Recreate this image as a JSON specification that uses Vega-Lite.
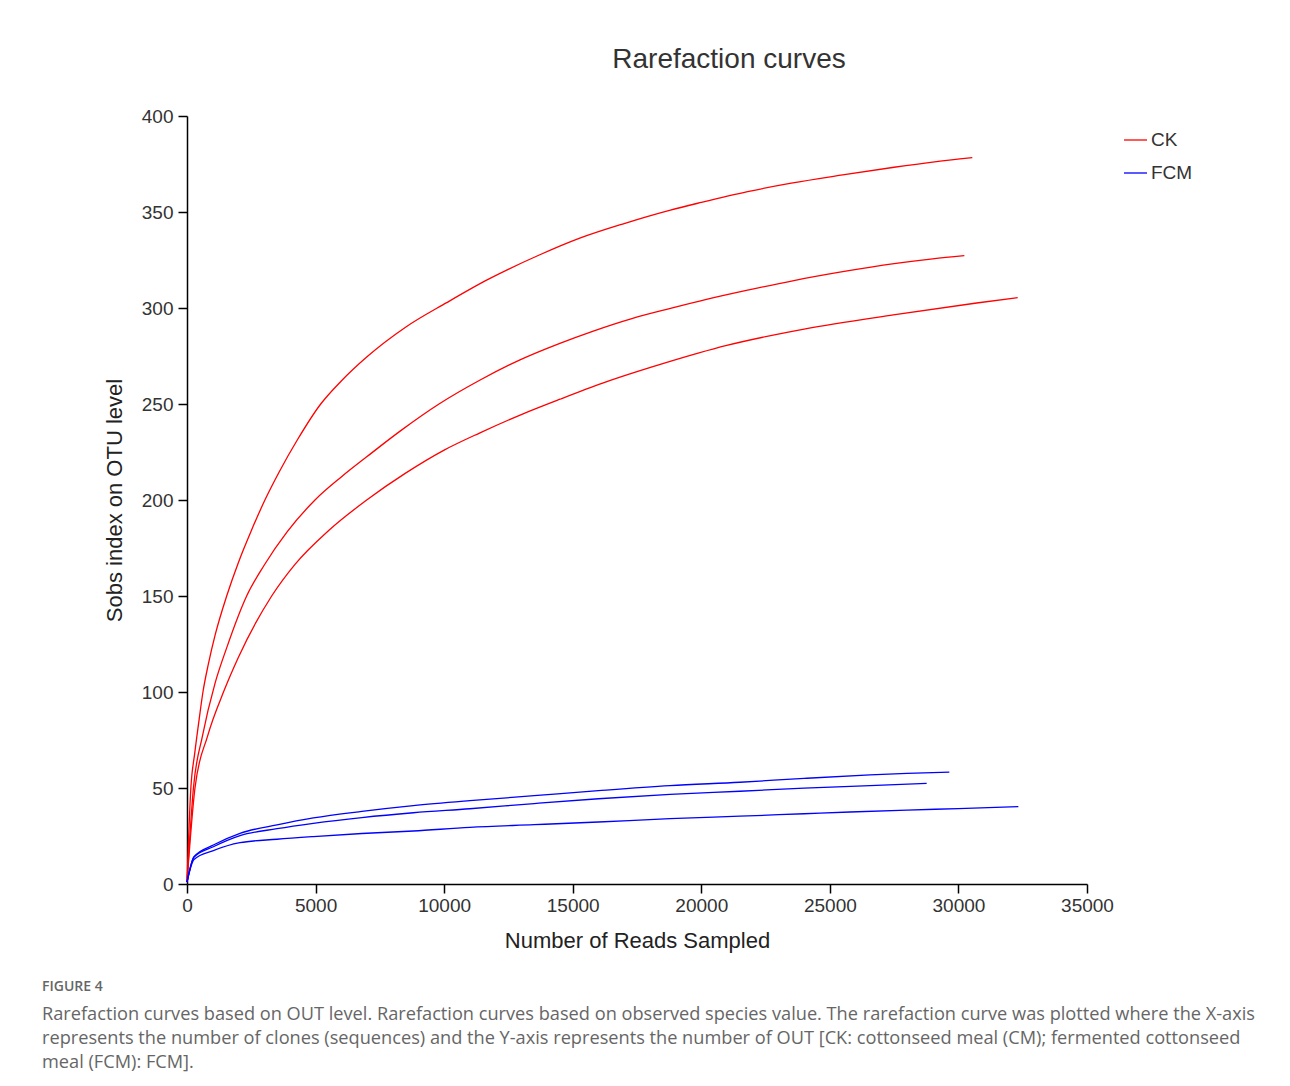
{
  "$schema": "https://vega.github.io/schema/vega-lite/v6.json",
  "padding": {"left": 42, "top": 46, "right": 0, "bottom": 0},
  "background": "white",
  "spacing": 28,
  "config": {
    "view": {"stroke": null},
    "font": "Liberation Sans",
    "axis": {
      "domainColor": "#000000",
      "domainWidth": 1.5,
      "tickColor": "#000000",
      "tickWidth": 1.5,
      "tickSize": 9,
      "labelFontSize": 19,
      "labelColor": "#333333",
      "labelFont": "Liberation Sans",
      "titleFont": "Liberation Sans",
      "titleFontSize": 22,
      "titleFontWeight": "normal",
      "titleColor": "#222222",
      "grid": false
    },
    "legend": {
      "labelFont": "Liberation Sans",
      "labelFontSize": 19,
      "labelColor": "#333333",
      "padding": 0
    }
  },
  "vconcat": [
    {
      "width": 900,
      "height": 768,
      "title": {
        "text": "Rarefaction curves",
        "anchor": "middle",
        "frame": "group",
        "dx": 92,
        "fontSize": 28,
        "fontWeight": "normal",
        "font": "Liberation Sans",
        "color": "#333333",
        "offset": 33
      },
      "data": {
        "values": [
          {"g": "CK", "s": "CK1", "x": 0, "y": 1},
          {"g": "CK", "s": "CK1", "x": 150, "y": 50},
          {"g": "CK", "s": "CK1", "x": 300, "y": 68},
          {"g": "CK", "s": "CK1", "x": 450, "y": 83.5},
          {"g": "CK", "s": "CK1", "x": 620, "y": 100},
          {"g": "CK", "s": "CK1", "x": 830, "y": 114.5},
          {"g": "CK", "s": "CK1", "x": 1100, "y": 130},
          {"g": "CK", "s": "CK1", "x": 1543, "y": 150},
          {"g": "CK", "s": "CK1", "x": 2000, "y": 167.5},
          {"g": "CK", "s": "CK1", "x": 2500, "y": 184},
          {"g": "CK", "s": "CK1", "x": 3030, "y": 200},
          {"g": "CK", "s": "CK1", "x": 3600, "y": 215},
          {"g": "CK", "s": "CK1", "x": 4300, "y": 231.5},
          {"g": "CK", "s": "CK1", "x": 5200, "y": 250},
          {"g": "CK", "s": "CK1", "x": 6000, "y": 262},
          {"g": "CK", "s": "CK1", "x": 7000, "y": 274.6},
          {"g": "CK", "s": "CK1", "x": 8500, "y": 290},
          {"g": "CK", "s": "CK1", "x": 10100, "y": 302.8},
          {"g": "CK", "s": "CK1", "x": 11650, "y": 314.5},
          {"g": "CK", "s": "CK1", "x": 13700, "y": 327.6},
          {"g": "CK", "s": "CK1", "x": 15300, "y": 336.5},
          {"g": "CK", "s": "CK1", "x": 17000, "y": 344},
          {"g": "CK", "s": "CK1", "x": 18800, "y": 351},
          {"g": "CK", "s": "CK1", "x": 20000, "y": 355},
          {"g": "CK", "s": "CK1", "x": 21800, "y": 360.6},
          {"g": "CK", "s": "CK1", "x": 23500, "y": 365},
          {"g": "CK", "s": "CK1", "x": 25500, "y": 369.3},
          {"g": "CK", "s": "CK1", "x": 27500, "y": 373.3},
          {"g": "CK", "s": "CK1", "x": 29000, "y": 376},
          {"g": "CK", "s": "CK1", "x": 30540, "y": 378.3},

          {"g": "CK", "s": "CK2", "x": 0, "y": 1},
          {"g": "CK", "s": "CK2", "x": 250, "y": 50},
          {"g": "CK", "s": "CK2", "x": 600, "y": 77},
          {"g": "CK", "s": "CK2", "x": 1100, "y": 105},
          {"g": "CK", "s": "CK2", "x": 1543, "y": 123},
          {"g": "CK", "s": "CK2", "x": 2320, "y": 150},
          {"g": "CK", "s": "CK2", "x": 3000, "y": 166},
          {"g": "CK", "s": "CK2", "x": 3900, "y": 183.5},
          {"g": "CK", "s": "CK2", "x": 4978, "y": 200},
          {"g": "CK", "s": "CK2", "x": 6000, "y": 212},
          {"g": "CK", "s": "CK2", "x": 7000, "y": 222.6},
          {"g": "CK", "s": "CK2", "x": 8300, "y": 236},
          {"g": "CK", "s": "CK2", "x": 9800, "y": 250},
          {"g": "CK", "s": "CK2", "x": 11400, "y": 262.5},
          {"g": "CK", "s": "CK2", "x": 12950, "y": 273},
          {"g": "CK", "s": "CK2", "x": 14500, "y": 281.6},
          {"g": "CK", "s": "CK2", "x": 15800, "y": 288},
          {"g": "CK", "s": "CK2", "x": 17300, "y": 294.5},
          {"g": "CK", "s": "CK2", "x": 18800, "y": 299.8},
          {"g": "CK", "s": "CK2", "x": 20200, "y": 304.5},
          {"g": "CK", "s": "CK2", "x": 21800, "y": 309.3},
          {"g": "CK", "s": "CK2", "x": 23600, "y": 314.3},
          {"g": "CK", "s": "CK2", "x": 25500, "y": 318.9},
          {"g": "CK", "s": "CK2", "x": 27500, "y": 323.1},
          {"g": "CK", "s": "CK2", "x": 29000, "y": 325.6},
          {"g": "CK", "s": "CK2", "x": 30230, "y": 327.3},

          {"g": "CK", "s": "CK3", "x": 0, "y": 1},
          {"g": "CK", "s": "CK3", "x": 310, "y": 50},
          {"g": "CK", "s": "CK3", "x": 800, "y": 77},
          {"g": "CK", "s": "CK3", "x": 1450, "y": 101},
          {"g": "CK", "s": "CK3", "x": 1996, "y": 118},
          {"g": "CK", "s": "CK3", "x": 3293, "y": 150},
          {"g": "CK", "s": "CK3", "x": 4200, "y": 166.5},
          {"g": "CK", "s": "CK3", "x": 5500, "y": 184},
          {"g": "CK", "s": "CK3", "x": 6988, "y": 200},
          {"g": "CK", "s": "CK3", "x": 8500, "y": 214},
          {"g": "CK", "s": "CK3", "x": 10000, "y": 226},
          {"g": "CK", "s": "CK3", "x": 11394, "y": 235},
          {"g": "CK", "s": "CK3", "x": 13000, "y": 244.5},
          {"g": "CK", "s": "CK3", "x": 14506, "y": 252.5},
          {"g": "CK", "s": "CK3", "x": 16191, "y": 261},
          {"g": "CK", "s": "CK3", "x": 18500, "y": 271},
          {"g": "CK", "s": "CK3", "x": 20989, "y": 280.5},
          {"g": "CK", "s": "CK3", "x": 24000, "y": 289},
          {"g": "CK", "s": "CK3", "x": 27468, "y": 296.4},
          {"g": "CK", "s": "CK3", "x": 30710, "y": 302.6},
          {"g": "CK", "s": "CK3", "x": 32304, "y": 305.4},

          {"g": "FCM", "s": "FCM1", "x": 0, "y": 1},
          {"g": "FCM", "s": "FCM1", "x": 272, "y": 14.2},
          {"g": "FCM", "s": "FCM1", "x": 1024, "y": 20.3},
          {"g": "FCM", "s": "FCM1", "x": 2061, "y": 26.4},
          {"g": "FCM", "s": "FCM1", "x": 3500, "y": 30.8},
          {"g": "FCM", "s": "FCM1", "x": 4913, "y": 34.4},
          {"g": "FCM", "s": "FCM1", "x": 6800, "y": 37.8},
          {"g": "FCM", "s": "FCM1", "x": 8802, "y": 40.8},
          {"g": "FCM", "s": "FCM1", "x": 11000, "y": 43.4},
          {"g": "FCM", "s": "FCM1", "x": 13500, "y": 46},
          {"g": "FCM", "s": "FCM1", "x": 16000, "y": 48.6},
          {"g": "FCM", "s": "FCM1", "x": 18783, "y": 51.2},
          {"g": "FCM", "s": "FCM1", "x": 21500, "y": 53},
          {"g": "FCM", "s": "FCM1", "x": 24000, "y": 55},
          {"g": "FCM", "s": "FCM1", "x": 26561, "y": 56.8},
          {"g": "FCM", "s": "FCM1", "x": 28000, "y": 57.6},
          {"g": "FCM", "s": "FCM1", "x": 29646, "y": 58.3},

          {"g": "FCM", "s": "FCM2", "x": 0, "y": 1},
          {"g": "FCM", "s": "FCM2", "x": 272, "y": 14},
          {"g": "FCM", "s": "FCM2", "x": 1024, "y": 19.4},
          {"g": "FCM", "s": "FCM2", "x": 2061, "y": 25.2},
          {"g": "FCM", "s": "FCM2", "x": 3500, "y": 28.8},
          {"g": "FCM", "s": "FCM2", "x": 4913, "y": 31.6},
          {"g": "FCM", "s": "FCM2", "x": 6800, "y": 34.6},
          {"g": "FCM", "s": "FCM2", "x": 8802, "y": 37.1},
          {"g": "FCM", "s": "FCM2", "x": 11000, "y": 39.2},
          {"g": "FCM", "s": "FCM2", "x": 13500, "y": 41.9},
          {"g": "FCM", "s": "FCM2", "x": 16000, "y": 44.4},
          {"g": "FCM", "s": "FCM2", "x": 18783, "y": 46.7},
          {"g": "FCM", "s": "FCM2", "x": 21500, "y": 48.3},
          {"g": "FCM", "s": "FCM2", "x": 24000, "y": 49.9},
          {"g": "FCM", "s": "FCM2", "x": 26561, "y": 51.2},
          {"g": "FCM", "s": "FCM2", "x": 28764, "y": 52.4},

          {"g": "FCM", "s": "FCM3", "x": 0, "y": 1},
          {"g": "FCM", "s": "FCM3", "x": 272, "y": 12.8},
          {"g": "FCM", "s": "FCM3", "x": 1024, "y": 17.4},
          {"g": "FCM", "s": "FCM3", "x": 2061, "y": 21.5},
          {"g": "FCM", "s": "FCM3", "x": 3500, "y": 23.3},
          {"g": "FCM", "s": "FCM3", "x": 4913, "y": 24.7},
          {"g": "FCM", "s": "FCM3", "x": 6800, "y": 26.3},
          {"g": "FCM", "s": "FCM3", "x": 8802, "y": 27.6},
          {"g": "FCM", "s": "FCM3", "x": 11000, "y": 29.5},
          {"g": "FCM", "s": "FCM3", "x": 13500, "y": 30.9},
          {"g": "FCM", "s": "FCM3", "x": 16000, "y": 32.3},
          {"g": "FCM", "s": "FCM3", "x": 18783, "y": 34},
          {"g": "FCM", "s": "FCM3", "x": 21500, "y": 35.3},
          {"g": "FCM", "s": "FCM3", "x": 24000, "y": 36.6},
          {"g": "FCM", "s": "FCM3", "x": 25784, "y": 37.5},
          {"g": "FCM", "s": "FCM3", "x": 28000, "y": 38.5},
          {"g": "FCM", "s": "FCM3", "x": 30000, "y": 39.3},
          {"g": "FCM", "s": "FCM3", "x": 32330, "y": 40.3}
        ]
      },
      "mark": {"type": "line", "strokeWidth": 1.3, "interpolate": "monotone"},
      "encoding": {
        "x": {
          "field": "x",
          "type": "quantitative",
          "scale": {"domain": [0, 35000], "nice": false},
          "axis": {
            "title": "Number of Reads Sampled",
            "values": [0, 5000, 10000, 15000, 20000, 25000, 30000, 35000],
            "format": "d",
            "labelFlush": false,
            "labelPadding": 3,
            "titlePadding": 15
          }
        },
        "y": {
          "field": "y",
          "type": "quantitative",
          "scale": {"domain": [0, 400], "nice": false},
          "axis": {
            "title": "Sobs index on OTU level",
            "values": [0, 50, 100, 150, 200, 250, 300, 350, 400],
            "labelPadding": 5,
            "titlePadding": 15
          }
        },
        "color": {
          "field": "g",
          "type": "nominal",
          "scale": {"domain": ["CK", "FCM"], "range": ["#ff0000", "#0000ff"]},
          "legend": {
            "title": null,
            "orient": "none",
            "legendX": 936,
            "legendY": 11.5,
            "symbolType": "stroke",
            "symbolSize": 529,
            "symbolStrokeWidth": 1.3,
            "labelOffset": 3,
            "rowPadding": 10
          }
        },
        "detail": {"field": "s", "type": "nominal"}
      }
    },
    {
      "width": 900,
      "height": 1,
      "data": {"values": []},
      "mark": {"type": "text"},
      "title": {
        "text": "FIGURE 4",
        "subtitle": [
          "Rarefaction curves based on OUT level. Rarefaction curves based on observed species value. The rarefaction curve was plotted where the X-axis",
          "represents the number of clones (sequences) and the Y-axis represents the number of OUT [CK: cottonseed meal (CM); fermented cottonseed",
          "meal (FCM): FCM]."
        ],
        "anchor": "start",
        "frame": "group",
        "orient": "top",
        "dx": -145,
        "font": "Open Sans",
        "fontSize": 14,
        "fontWeight": 600,
        "color": "#666666",
        "subtitleFont": "Open Sans",
        "subtitleFontSize": 18.2,
        "subtitleColor": "#666666",
        "subtitleLineHeight": 24,
        "subtitlePadding": 12,
        "offset": 0
      }
    }
  ]
}
